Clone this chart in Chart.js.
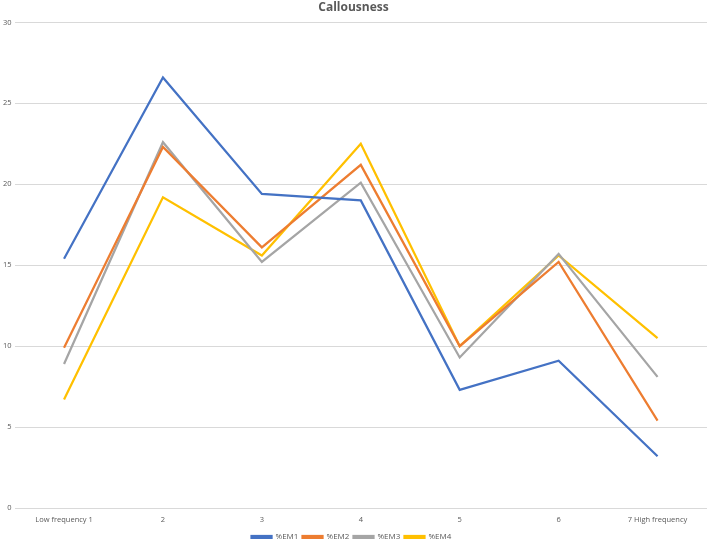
<!DOCTYPE html>
<html>
<head>
<meta charset="utf-8">
<script src="https://cdn.jsdelivr.net/npm/chart.js@4"></script>
<style>
  html, body { margin: 0; padding: 0; background: #fff; }
  #wrap { width: 709px; height: 539px; }
</style>
</head>
<body>
<div id="wrap"><canvas id="myChart" width="709" height="539"></canvas></div>
<script>
const labels = ["Low frequency 1", "2", "3", "4", "5", "6", "7 High frequency"];
const seriesNames = ["%EM1", "%EM2", "%EM3", "%EM4"];
const em1 = [15.4, 26.6, 19.4, 19.0, 7.3, 9.1, 3.2];
const em2 = [9.9, 22.3, 16.1, 21.2, 10.0, 15.2, 5.4];
const em3 = [8.9, 22.6, 15.2, 20.1, 9.3, 15.7, 8.1];
const em4 = [6.7, 19.2, 15.6, 22.5, 10.0, 15.6, 10.5];
const colors = ["#4472C4", "#ED7D31", "#A5A5A5", "#FFC000"];

const font = "'Open Sans', 'Liberation Sans', sans-serif";

new Chart("myChart", {
  type: "line",
  data: {
    labels: labels,
    datasets: [em1, em2, em3, em4].map((d, i) => ({
      label: seriesNames[i],
      data: d,
      borderColor: colors[i],
      backgroundColor: colors[i],
      borderWidth: 2.25,
      pointRadius: 0,
      pointHoverRadius: 0,
      tension: 0,
      fill: false
    }))
  },
  options: {
    responsive: false,
    animation: false,
    layout: { padding: { left: 0, right: 2, top: 0, bottom: -12 } },
    plugins: {
      title: {
        display: true,
        text: "Callousness",
        color: "#595959",
        font: { family: font, size: 12, weight: "bold" },
        padding: { top: 0, bottom: 8 }
      },
      legend: {
        position: "bottom",
        labels: {
          color: "#595959",
          font: { family: font, size: 8 },
          boxWidth: 20,
          boxHeight: 2,
          padding: 0,
          // pad the text so the items sit apart without growing the legend height
          generateLabels: function (chart) {
            const items = Chart.defaults.plugins.legend.labels.generateLabels(chart);
            items.forEach(it => { it.text = it.text + "  "; });
            return items;
          }
        }
      },
      tooltip: { enabled: false }
    },
    scales: {
      x: {
        offset: true,
        grid: { display: false },
        border: { display: false },
        title: {
          display: true,
          text: "",
          font: { size: 6, lineHeight: 1 },
          padding: { top: 2, bottom: 2 }
        },
        ticks: {
          color: "#595959",
          font: { family: font, size: 7.5 },
          maxRotation: 0,
          padding: -1
        }
      },
      y: {
        min: 0,
        max: 30,
        grid: { color: "#D9D9D9", lineWidth: 1, drawTicks: false },
        border: { display: false },
        ticks: {
          stepSize: 5,
          color: "#595959",
          font: { family: font, size: 7.5 },
          padding: 3
        }
      }
    }
  }
});
</script>
</body>
</html>
